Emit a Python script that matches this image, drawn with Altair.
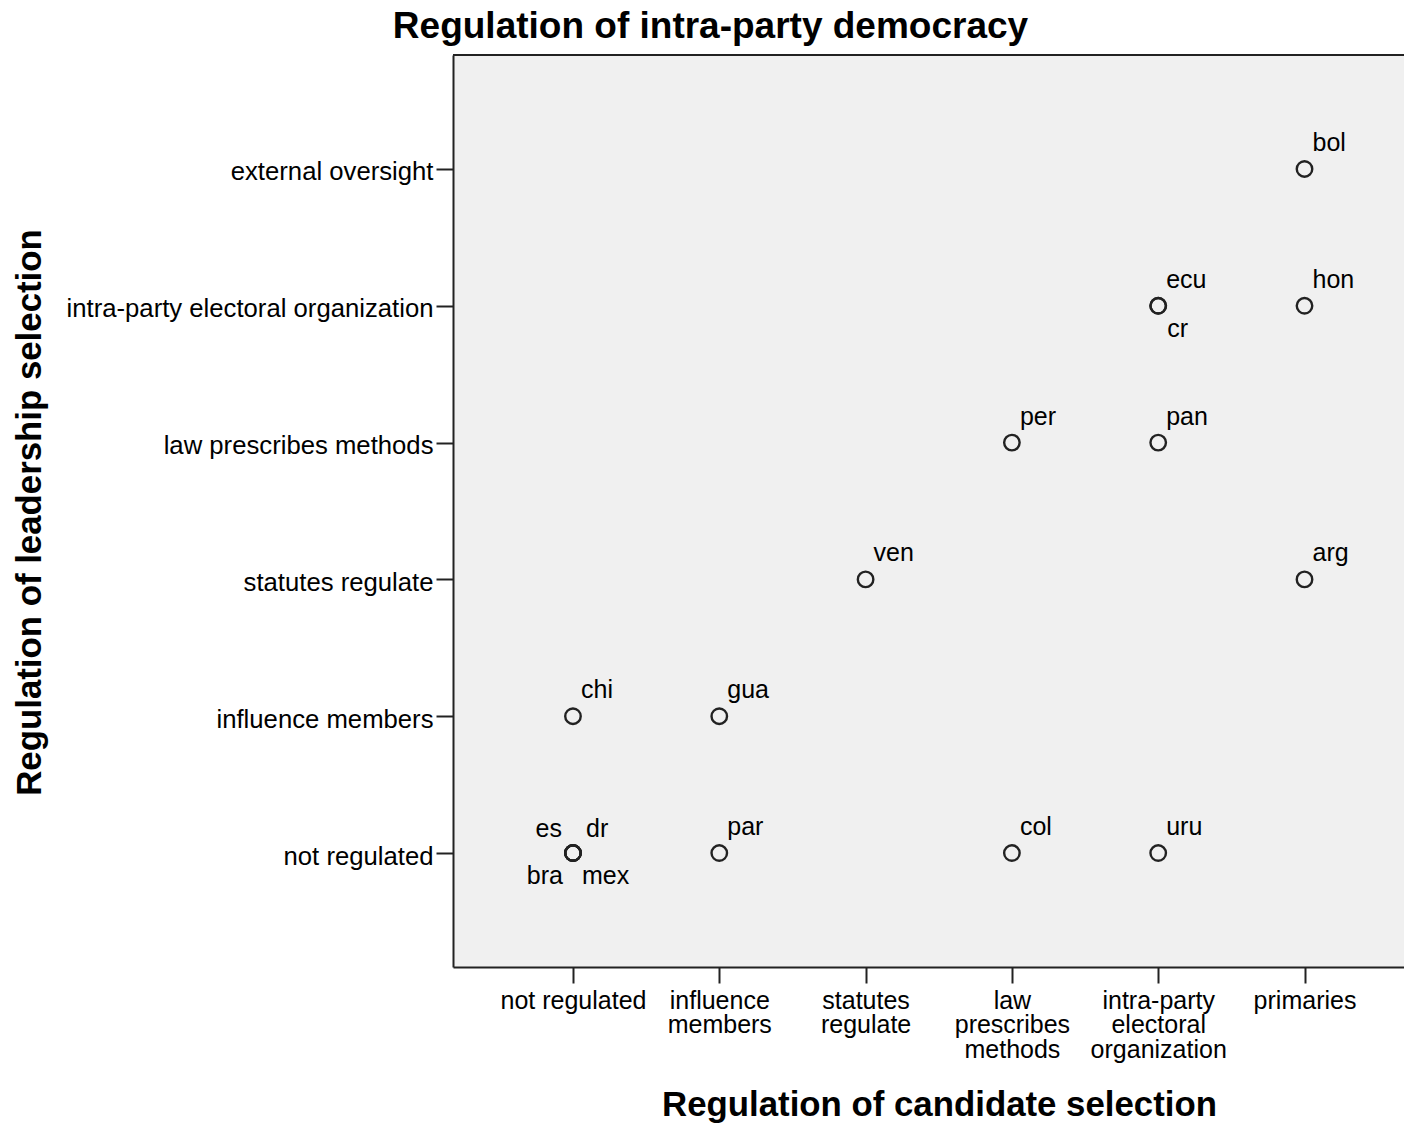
import json
import altair as alt
import pandas as pd

# ---- data ----
countries = ["bol", "ecu", "cr", "hon", "per", "pan", "ven", "arg", "chi",
             "gua", "es", "dr", "bra", "mex", "par", "col", "uru"]
candidate = [6, 5, 5, 6, 4, 5, 3, 6, 1, 2, 1, 1, 1, 1, 2, 4, 5]
leadership = [6, 5, 5, 5, 4, 4, 3, 3, 2, 2, 1, 1, 1, 1, 1, 1, 1]
label_side = ["ur", "ur", "lr", "ur", "ur", "ur", "ur", "ur", "ur",
              "ur", "ul", "urw", "ll", "lr", "ur", "ur", "ur"]

x_categories = [["not regulated"], ["influence", "members"], ["statutes", "regulate"],
                ["law", "prescribes", "methods"],
                ["intra-party", "electoral", "organization"], ["primaries"]]
y_categories = ["not regulated", "influence members", "statutes regulate",
                "law prescribes methods", "intra-party electoral organization",
                "external oversight"]

df = pd.DataFrame({"country": countries, "candidate": candidate,
                   "leadership": leadership, "side": label_side})

FONT = "Liberation Sans"
W, H = 951, 912
INK = "#222222"

xscale = alt.Scale(domain=[0.18, 6.68], nice=False, zero=False)
yscale = alt.Scale(domain=[0.167, 6.833], nice=False, zero=False)

xaxis = alt.Axis(values=[1, 2, 3, 4, 5, 6],
                 labelExpr=json.dumps(x_categories) + "[datum.value - 1]",
                 labelFont=FONT, labelFontSize=25, labelColor="black",
                 labelLineHeight=24.5, labelBaseline="top", labelPadding=5,
                 labelOverlap=False, labelFlush=False, labelBound=False,
                 labelLimit=0,
                 tickSize=16, tickWidth=2, tickColor=INK,
                 domainColor=INK, domainWidth=2, grid=False,
                 title="Regulation of candidate selection",
                 titleFont=FONT, titleFontSize=34.8, titleFontWeight="bold",
                 titleColor="black", titleBaseline="alphabetic",
                 titleX=486, titleY=148, titleAlign="center", titleLimit=0)

yaxis = alt.Axis(values=[1, 2, 3, 4, 5, 6],
                 labelExpr=json.dumps(y_categories) + "[datum.value - 1]",
                 labelFont=FONT, labelFontSize=25.7, labelColor="black",
                 labelPadding=3, labelOverlap=False, labelFlush=False,
                 labelBound=False, labelBaseline="middle", labelOffset=3,
                 labelLimit=0,
                 tickSize=17, tickWidth=2, tickColor=INK,
                 domainColor=INK, domainWidth=2, grid=False,
                 title="Regulation of leadership selection",
                 titleFont=FONT, titleFontSize=34.8, titleFontWeight="bold",
                 titleColor="black", titleBaseline="alphabetic",
                 titleAngle=270, titleX=-413, titleY=457, titleAlign="center",
                 titleLimit=0)

base = alt.Chart(df)

points = base.mark_point(shape="circle", filled=False, size=240,
                         stroke=INK, strokeWidth=2.4, opacity=1).encode(
    x=alt.X("candidate:Q", scale=xscale, axis=xaxis),
    y=alt.Y("leadership:Q", scale=yscale, axis=yaxis),
)

placements = {
    "ur": dict(align="left", dx=8, dy=-18),
    "urw": dict(align="left", dx=13, dy=-16),
    "ul": dict(align="right", dx=-11, dy=-16),
    "lr": dict(align="left", dx=9, dy=31),
    "ll": dict(align="right", dx=-10, dy=31),
}

label_layers = []
for code, p in placements.items():
    label_layers.append(
        base.transform_filter(alt.datum.side == code).mark_text(
            font=FONT, fontSize=25, color="black", baseline="alphabetic", **p
        ).encode(
            x=alt.X("candidate:Q", scale=xscale),
            y=alt.Y("leadership:Q", scale=yscale),
            text="country:N",
        )
    )

top_border = alt.Chart(pd.DataFrame({"k": [0]})).mark_rule(
    color=INK, strokeWidth=2).encode(
    x=alt.value(0), x2=alt.value(W), y=alt.value(0))

chart = alt.layer(points, *label_layers, top_border).properties(
    width=W, height=H,
    autosize=alt.AutoSizeParams(type="none"),
    padding={"left": 445, "top": 47, "right": 0, "bottom": 156},
    title=alt.TitleParams("Regulation of intra-party democracy",
                          font=FONT, fontSize=37, fontWeight="bold",
                          color="black", anchor="middle", frame="group",
                          dx=-218, offset=8),
).configure(background="white").configure_view(fill="#f0f0f0", stroke=None)

chart.save("out.html", embed_options={"renderer": "svg", "actions": False})
